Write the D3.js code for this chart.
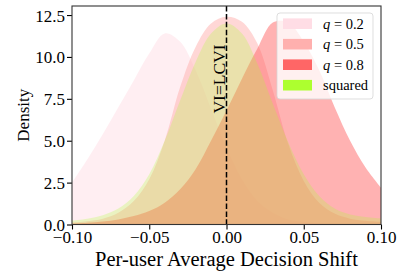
<!DOCTYPE html>
<html>
<head>
<meta charset="utf-8">
<script src="https://cdn.jsdelivr.net/npm/d3@7"></script>
<style>
  body { margin: 0; background: #fff; }
  svg text { font-family: "Liberation Serif", "Times New Roman", serif !important; fill: #000; }
</style>
</head>
<body>
<div id="svg-container"></div>
<script>
// data
const xs = [-0.10, -0.09, -0.08, -0.07, -0.06, -0.05, -0.04, -0.03, -0.02, -0.01, 0.00,
  0.01, 0.02, 0.03, 0.04, 0.05, 0.06, 0.07, 0.08, 0.09, 0.10];
const q02 = [2.5, 3.9, 5.4, 7.0, 8.6, 10.2, 11.4, 10.9, 9.2, 6.9, 4.6, 2.7, 1.4, 0.7, 0.3, 0.15, 0.07, 0.04, 0.02, 0.01, 0.01];
const q05 = [0.12, 0.2, 0.35, 0.7, 1.4, 2.7, 5.0, 8.2, 10.6, 12.0, 12.4, 12.1, 10.8, 8.0, 4.8, 2.6, 1.3, 0.65, 0.35, 0.22, 0.15];
const q08 = [0.05, 0.1, 0.18, 0.3, 0.5, 0.8, 1.3, 2.1, 3.3, 5.0, 6.8, 8.7, 10.5, 12.05, 12.05, 10.9, 9.2, 7.0, 5.0, 3.4, 2.2];
const squared = [0.24, 0.35, 0.55, 0.95, 1.7, 3.0, 5.0, 7.4, 9.7, 11.4, 12.0, 11.4, 9.6, 7.2, 4.9, 3.0, 1.7, 0.95, 0.6, 0.45, 0.36];

const seriesNames = ["$q$ = 0.2", "$q$ = 0.5", "$q$ = 0.8", "squared"];
const seriesValues = [q02, q05, q08, squared];
const seriesColors = ["#ffdde5", "#ffb0ae", "#ff6666", "#adff2f"];
const seriesAlpha = [0.5, 0.5, 0.5, 0.25];

const xTicks = [-0.10, -0.05, 0.00, 0.05, 0.10];
const yTicks = [0, 2.5, 5, 7.5, 10, 12.5];

const width = 407;
const height = 274;
const margin = { top: 6, right: 26, bottom: 49.5, left: 72 };
const serif = "'Liberation Serif', 'Times New Roman', serif";

const svg = d3.select("#svg-container").append("svg")
  .attr("width", width)
  .attr("height", height);

// scales
const xScale = d3.scaleLinear().domain([-0.1, 0.1]).range([margin.left, width - margin.right]);
const yScale = d3.scaleLinear().domain([0, 13.04]).range([height - margin.bottom, margin.top]);

svg.append("clipPath").attr("id", "clip")
  .append("rect")
  .attr("x", margin.left).attr("y", margin.top)
  .attr("width", width - margin.left - margin.right)
  .attr("height", height - margin.top - margin.bottom);

const area = d3.area()
  .x((d) => xScale(d[0]))
  .y0(yScale(0))
  .y1((d) => yScale(Math.max(0, d[1])))
  .curve(d3.curveCatmullRom.alpha(0.5));

svg.append("g").attr("clip-path", "url(#clip)")
  .selectAll("path")
  .data(seriesValues)
  .enter()
  .append("path")
  .attr("d", (vals) => area(xs.map((x, i) => [x, vals[i]])))
  .attr("fill", (d, i) => seriesColors[i])
  .attr("fill-opacity", (d, i) => seriesAlpha[i]);

// dashed line at 0
svg.append("line")
  .attr("x1", xScale(0)).attr("x2", xScale(0))
  .attr("y1", margin.top).attr("y2", height - margin.bottom)
  .attr("stroke", "#000")
  .attr("stroke-width", 1.5)
  .attr("stroke-dasharray", "5.5,2.4");

svg.append("text")
  .attr("transform", `translate(${xScale(0) - 2}, 79) rotate(-90)`)
  .attr("text-anchor", "middle")
  .style("font-family", serif)
  .style("font-size", "17.5px")
  .text("VI=LCVI");

// axes
const fmtX = (d) => d3.format(".2f")(d).replace("-", "\u2212");
const xAxis = d3.axisBottom(xScale).tickValues(xTicks).tickFormat(fmtX).tickSize(5).tickPadding(2);
const yAxis = d3.axisLeft(yScale).tickValues(yTicks).tickFormat(d3.format(".1f")).tickSize(5).tickPadding(2);

svg.append("g")
  .attr("class", "x-axis")
  .attr("transform", `translate(0, ${height - margin.bottom})`)
  .call(xAxis);

svg.append("g")
  .attr("class", "y-axis")
  .attr("transform", `translate(${margin.left}, 0)`)
  .call(yAxis);

svg.selectAll(".x-axis .domain, .y-axis .domain").remove();
svg.selectAll(".x-axis, .y-axis").attr("font-family", null);
svg.selectAll(".tick line").attr("stroke", "#000").attr("stroke-width", 1.1);
svg.selectAll(".tick text")
  .style("font-size", "17px")
  .style("font-family", serif)
  .attr("fill", "#000");
svg.selectAll(".x-axis .tick text").attr("dy", "0.7em");
svg.selectAll(".y-axis .tick text").attr("dy", "0.35em");

// frame
svg.append("rect")
  .attr("x", margin.left).attr("y", margin.top)
  .attr("width", width - margin.left - margin.right)
  .attr("height", height - margin.top - margin.bottom)
  .attr("fill", "none")
  .attr("stroke", "#333")
  .attr("stroke-width", 1.1);

// axis titles
svg.append("text")
  .attr("x", (margin.left + width - margin.right) / 2)
  .attr("y", 266)
  .attr("text-anchor", "middle")
  .style("font-family", serif)
  .style("font-size", "20.5px")
  .text("Per-user Average Decision Shift");

svg.append("text")
  .attr("transform", `translate(29, ${(margin.top + height - margin.bottom) / 2}) rotate(-90)`)
  .attr("text-anchor", "middle")
  .style("font-family", serif)
  .style("font-size", "17px")
  .text("Density");

// legend
const legend = svg.append("g").attr("transform", "translate(277, 13)");
legend.append("rect")
  .attr("width", 96).attr("height", 86)
  .attr("rx", 3)
  .attr("fill", "#fff").attr("fill-opacity", 0.8)
  .attr("stroke", "#d6d6d6").attr("stroke-opacity", 0.8);

const rows = legend.selectAll("g.row")
  .data(seriesNames)
  .enter()
  .append("g")
  .attr("class", "row")
  .attr("transform", (d, i) => `translate(6, ${10.7 + 20.5 * i})`);

rows.append("rect")
  .attr("x", 0).attr("y", -5.3)
  .attr("width", 29).attr("height", 10.6)
  .attr("fill", (d, i) => seriesColors[i]);

rows.append("text")
  .attr("x", 40)
  .attr("y", 5)
  .style("font-family", serif)
  .style("font-size", "14.5px")
  .each(function (d) {
    const t = d3.select(this);
    if (d.startsWith("$q$")) {
      t.append("tspan").style("font-style", "italic").text("q");
      t.append("tspan").text(d.replace("$q$", ""));
    } else {
      t.text(d);
    }
  });
</script>
</body>
</html>
